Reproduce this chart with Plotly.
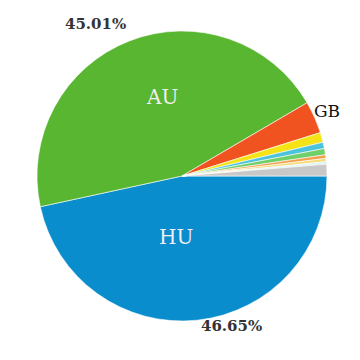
import plotly.graph_objects as go

labels = ["HU", "AU", "GB", "DE", "FR", "IT", "NL", "ES", "PL", "AT", "CZ", "Other"]
values = [46.65, 45.01, 3.6, 1.1, 0.7, 0.7, 0.4, 0.36, 0.1, 0.08, 0.1, 1.3]
colors = ["#0a8dcc", "#58b631", "#f0531f", "#f5e315", "#4cc3dc", "#6fcf6a",
          "#f29f4b", "#f3dc78", "#bfe9f2", "#5fc7b8", "#9fd3ea", "#c8c8c8"]

fig = go.Figure(go.Pie(
    labels=labels,
    values=values,
    sort=False,
    direction="clockwise",
    rotation=90,
    marker=dict(colors=colors, line=dict(color="white", width=0.6)),
    textinfo="none",
    hoverinfo="label+percent",
    showlegend=False,
))

L, T, S = 37, 31, 290

def px(x, y):
    return (x - L) / S, 1 - (y - T) / S

annots = [
    ("45.01%", 95, 24, dict(family="DejaVu Serif", size=15, color="#333333"), True),
    ("46.65%", 231, 326, dict(family="DejaVu Serif", size=15, color="#333333"), True),
    ("AU", 162, 97, dict(family="DejaVu Serif", size=20, color="#f4eef2"), False),
    ("HU", 176, 237, dict(family="DejaVu Serif", size=20, color="#f4eef2"), False),
    ("GB", 327, 111, dict(family="DejaVu Serif", size=17, color="#111111"), False),
]
for txt, x, y, f, bold in annots:
    ax, ay = px(x, y)
    fig.add_annotation(text=f"<b>{txt}</b>" if bold else txt, x=ax, y=ay,
                       xref="paper", yref="paper", showarrow=False,
                       xanchor="center", yanchor="middle", font=f)

fig.update_layout(
    width=360, height=360,
    margin=dict(l=L, r=360 - L - S, t=T, b=360 - T - S),
    paper_bgcolor="white", plot_bgcolor="white",
)
fig.write_html("out.html")
